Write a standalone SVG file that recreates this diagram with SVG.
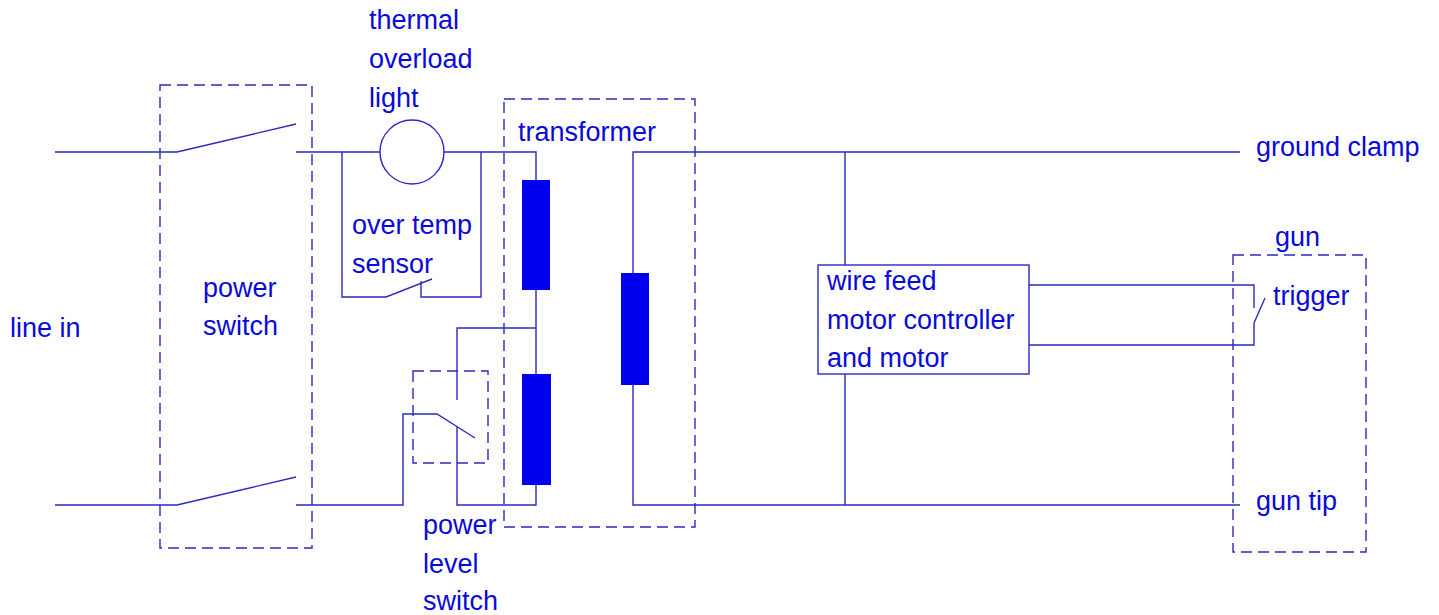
<svg xmlns="http://www.w3.org/2000/svg" width="1439" height="615" viewBox="0 0 1439 615">
<style>
text{font-family:"Liberation Sans",Arial,sans-serif;font-size:27px;fill:#0a0ad8}
.w{fill:none;stroke:#2a2ac0;stroke-width:1.4}
.d{fill:none;stroke:#2a2ac0;stroke-width:1.4;stroke-dasharray:11 6}
.c{fill:#0000ee;stroke:none}
</style>
<rect width="1439" height="615" fill="#fff"/>
<g id="connectors">
<path class="w" d="M55 152H177L296 124M296 152H380M444 152H536V180M536 290V374M536 485V505H457V427M457 400V328H536"/>
<path class="w" d="M342 152V297H386L432 279M421 281V297H481V152"/>
<path class="w" d="M55 505H177L296 477M296 505H403V414H437L475 438"/>
<path class="w" d="M1240 152H633V273M633 385V505H1240M845 152V265M845 374V505"/>
<path class="w" d="M1029 285H1254V308M1254 323V345H1029M1254 323L1265 298"/>
</g>
<g id="power-switch"><rect class="d" x="160" y="85" width="152" height="463"/><text x="203" y="297">power</text><text x="203" y="335">switch</text></g>
<g id="line-in"><text x="10" y="337">line in</text></g>
<g id="thermal-light"><circle cx="412" cy="152" r="32" fill="#fff" stroke="#2a2ac0" stroke-width="1.4"/><text x="369" y="29">thermal</text><text x="369" y="68">overload</text><text x="369" y="107">light</text></g>
<g id="over-temp"><text x="352" y="234">over temp</text><text x="352" y="273">sensor</text></g>
<g id="transformer"><rect class="d" x="504" y="99" width="191" height="428"/><text x="518" y="141">transformer</text><rect class="c" x="522" y="180" width="28" height="110"/><rect class="c" x="522" y="374" width="29" height="111"/><rect class="c" x="621" y="273" width="28" height="112"/></g>
<g id="power-level"><rect class="d" x="413" y="371" width="75" height="92"/><text x="423" y="534">power</text><text x="423" y="573">level</text><text x="423" y="610">switch</text></g>
<g id="ground-clamp"><text x="1256" y="156">ground clamp</text></g>
<g id="wire-feed"><rect x="818" y="265" width="211" height="109" fill="#fff" stroke="#2a2ac0" stroke-width="1.4"/><text x="827" y="290">wire feed</text><text x="827" y="329">motor controller</text><text x="827" y="367">and motor</text></g>
<g id="gun"><rect class="d" x="1233" y="255" width="133" height="297"/><text x="1275" y="246">gun</text><text x="1273" y="305">trigger</text><text x="1256" y="510">gun tip</text></g>
</svg>
